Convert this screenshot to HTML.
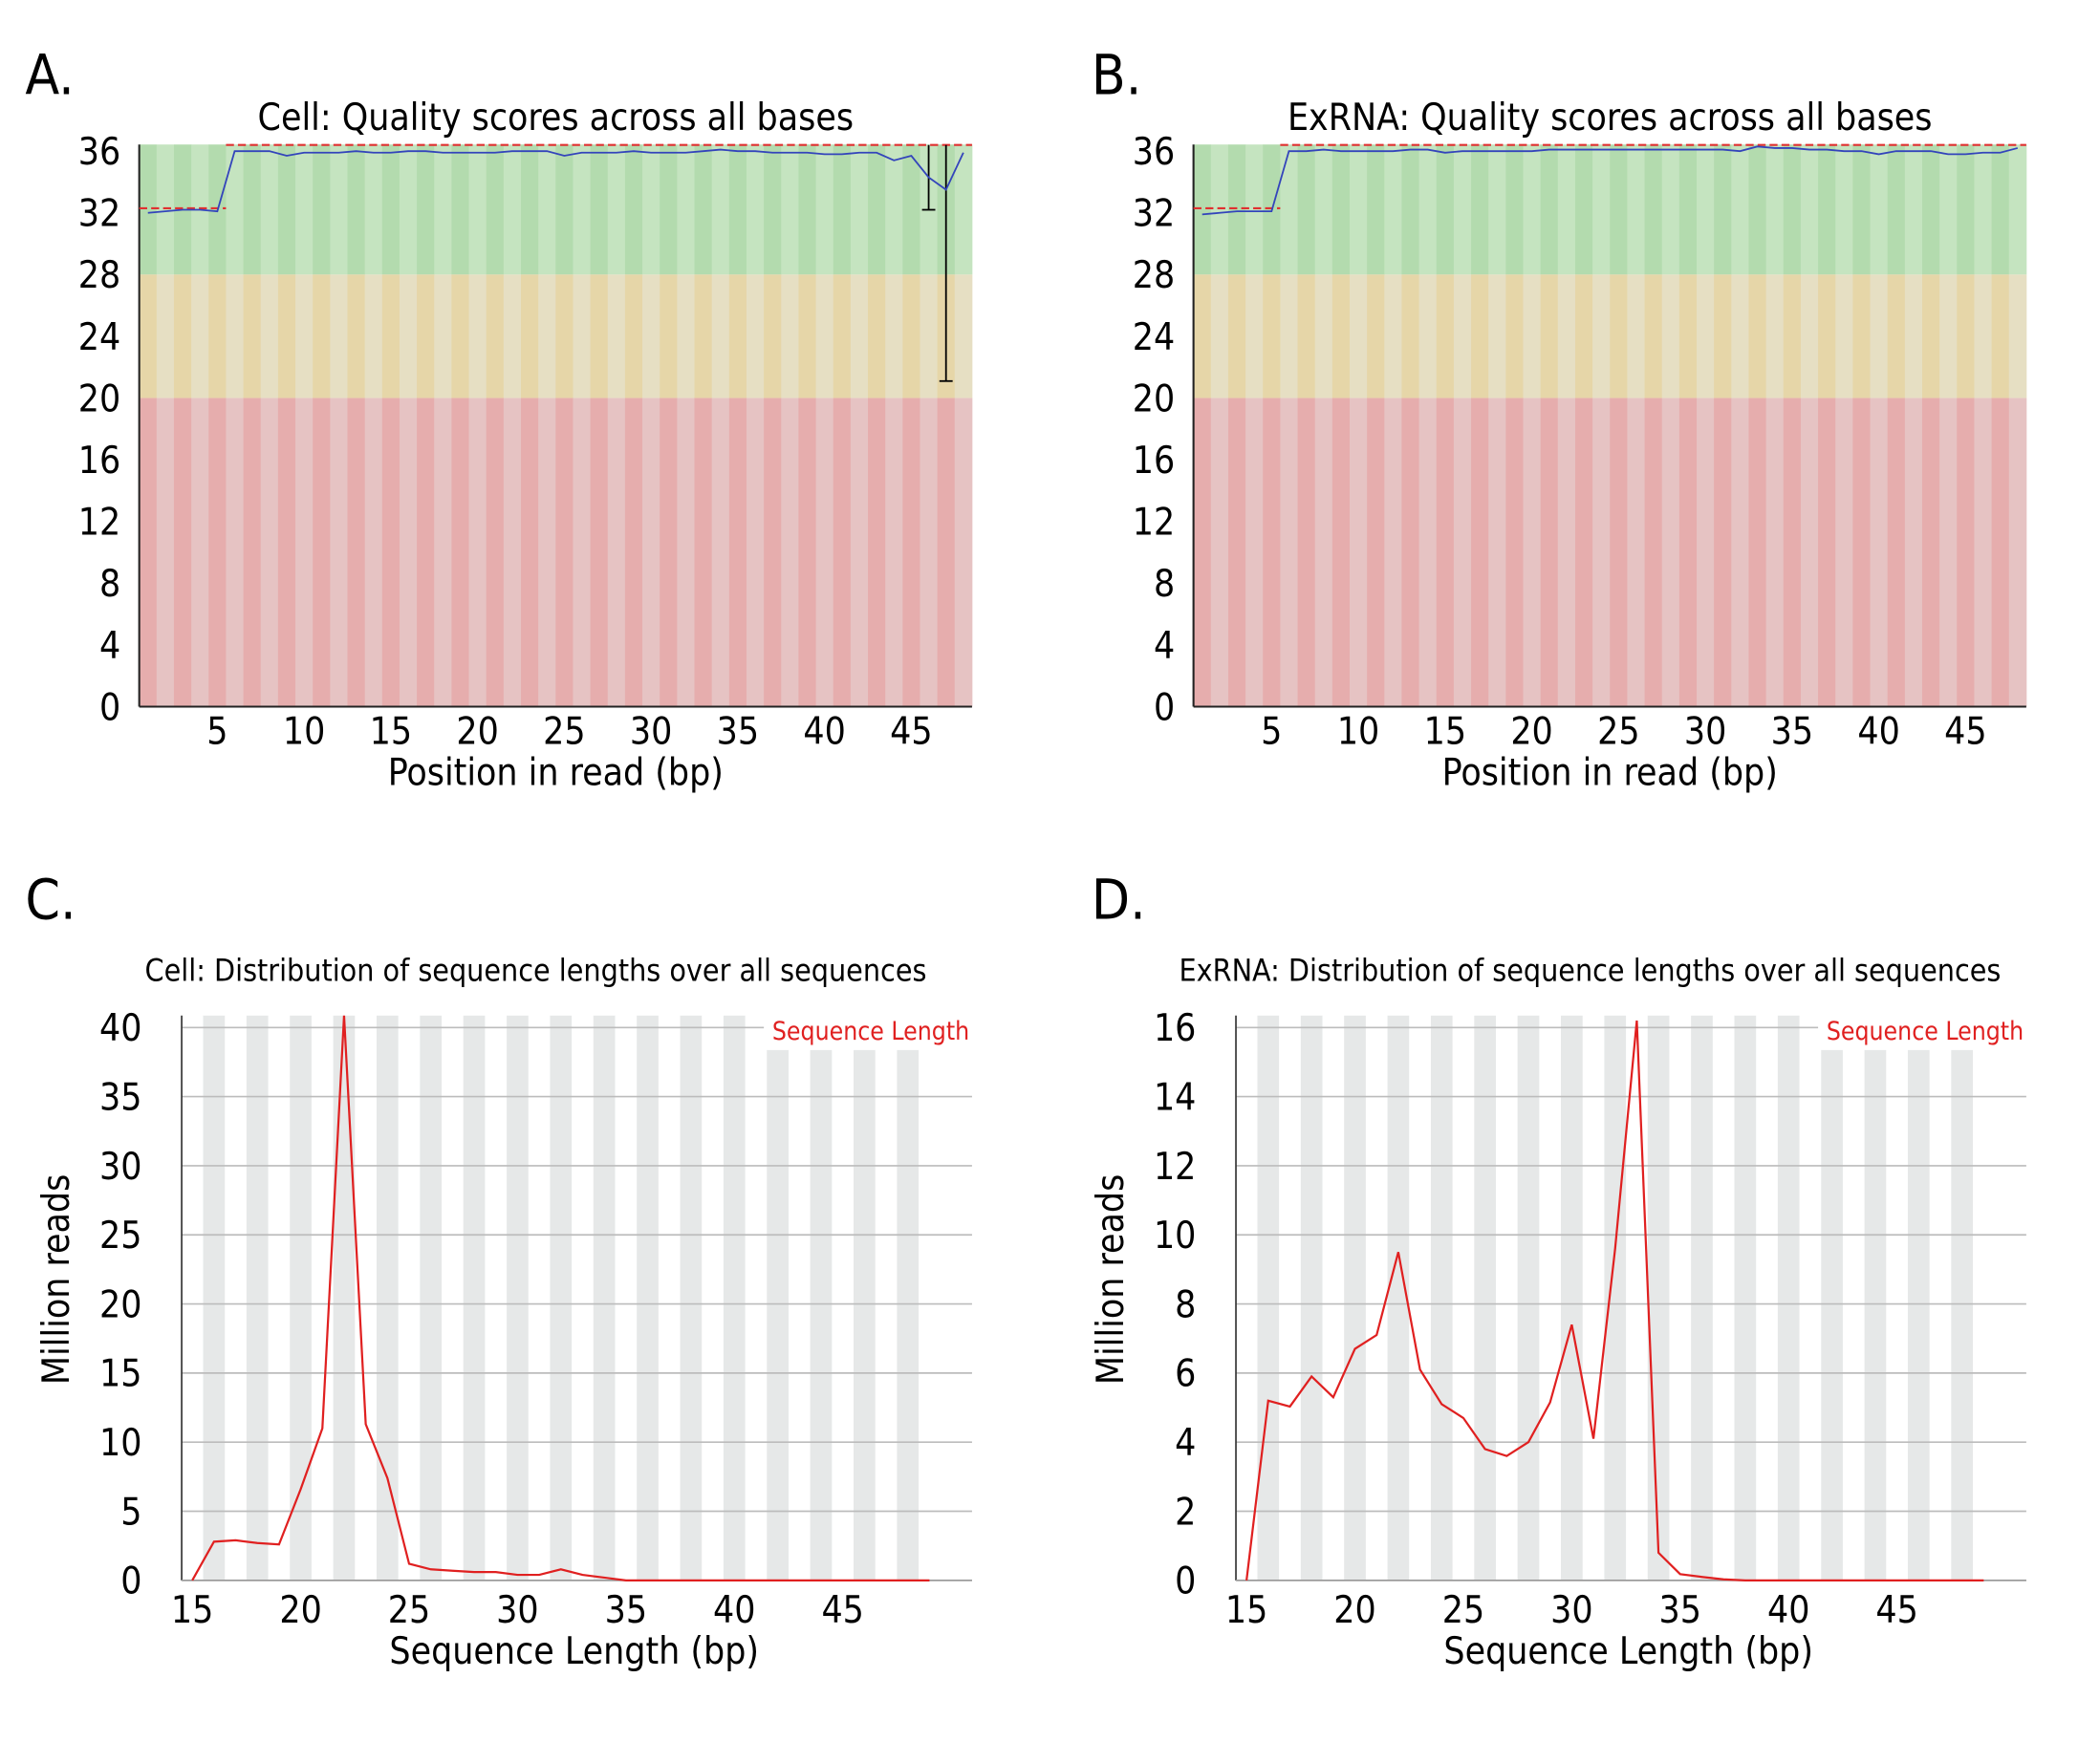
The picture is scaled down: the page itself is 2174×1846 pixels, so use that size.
<!DOCTYPE html>
<html><head><meta charset="utf-8">
<style>
html,body{margin:0;padding:0;background:#fff;}
svg{display:block;}
text{font-family:"DejaVu Sans Condensed","DejaVu Sans","Liberation Sans",sans-serif;fill:#000;}
</style></head>
<body>
<svg id="fig" width="2174" height="1846" viewBox="0 0 1567 1330.5" preserveAspectRatio="none" xmlns="http://www.w3.org/2000/svg">
<g id="root"></g>
</svg>
<script>
// ---- Quality data (A: Cell, B: ExRNA), positions 1..48 ----
const qualPositions = [1,2,3,4,5,6,7,8,9,10,11,12,13,14,15,16,17,18,19,20,21,22,23,24,25,26,27,28,29,30,31,32,33,34,35,36,37,38,39,40,41,42,43,44,45,46,47,48];
const qualMeanA = [32.0,32.1,32.2,32.2,32.1,36.0,36.0,36.0,35.7,35.9,35.9,35.9,36.0,35.9,35.9,36.0,36.0,35.9,35.9,35.9,35.9,36.0,36.0,36.0,35.7,35.9,35.9,35.9,36.0,35.9,35.9,35.9,36.0,36.1,36.0,36.0,35.9,35.9,35.9,35.8,35.8,35.9,35.9,35.4,35.7,34.3,33.5,35.9];
const qualMeanB = [31.9,32.0,32.1,32.1,32.1,36.0,36.0,36.1,36.0,36.0,36.0,36.0,36.1,36.1,35.9,36.0,36.0,36.0,36.0,36.0,36.1,36.1,36.1,36.1,36.1,36.1,36.1,36.1,36.1,36.1,36.1,36.0,36.3,36.2,36.2,36.1,36.1,36.0,36.0,35.8,36.0,36.0,36.0,35.8,35.8,35.9,35.9,36.2];
const qualMedianA = [32.3,32.3,32.3,32.3,32.3,36.4,36.4,36.4,36.4,36.4,36.4,36.4,36.4,36.4,36.4,36.4,36.4,36.4,36.4,36.4,36.4,36.4,36.4,36.4,36.4,36.4,36.4,36.4,36.4,36.4,36.4,36.4,36.4,36.4,36.4,36.4,36.4,36.4,36.4,36.4,36.4,36.4,36.4,36.4,36.4,36.4,36.4,36.4];
const qualMedianB = qualMedianA;
const errPosA = [46,47];
const errLowA = [32.2,21.1];
const errHighA = [36.4,36.4];
const qualTicks = [0,4,8,12,16,20,24,28,32,36];
const posTicks = [5,10,15,20,25,30,35,40,45];

// ---- Length distribution (C: Cell, D: ExRNA), lengths 15..49 ----
const lengths = [15,16,17,18,19,20,21,22,23,24,25,26,27,28,29,30,31,32,33,34,35,36,37,38,39,40,41,42,43,44,45,46,47,48,49];
const readsC = [0,2.8,2.9,2.7,2.6,6.6,11.0,41,11.3,7.4,1.2,0.8,0.7,0.6,0.6,0.4,0.4,0.8,0.4,0.2,0,0,0,0,0,0,0,0,0,0,0,0,0,0,0];
const readsD = [0,5.2,5.03,5.9,5.3,6.7,7.1,9.5,6.1,5.1,4.7,3.8,3.6,4.0,5.15,7.4,4.1,9.6,16.2,0.8,0.18,0.1,0.03,0,0,0,0,0,0,0,0,0,0,0,0];
const ticksC = [0,5,10,15,20,25,30,35,40];
const ticksD = [0,2,4,6,8,10,12,14,16];
const lenTicks = [15,20,25,30,35,40,45];

const NS="http://www.w3.org/2000/svg";
const root=document.getElementById('root');
function mk(tag,attrs,parent,txt){const e=document.createElementNS(NS,tag);for(const k in attrs)e.setAttribute(k,attrs[k]);if(txt!==undefined)e.textContent=txt;(parent||root).appendChild(e);return e;}

function qualPanel(ox,labX,label,title,mean,median,errP,errL,errH,nm){
  const g=mk('g',{});
  
  
  const L=ox+105,R=ox+733,B=533,T=109;
  const n=48,w=(R-L)/n;
  const x=p=>L+(p-0.5)*w;
  const y=v=>B-v*(B-114)/36;
  const bands=[[T,y(28),'#c5e4c0','#b3dbae'],[y(28),y(20),'#e6dfc3','#e6d6a8'],[y(20),B,'#e6c3c3','#e6adad']];
  for(const b of bands){
    for(let i=0;i<n;i++){
      const r=mk('rect',{x:L+i*w,y:b[0],width:w+0.3,height:b[1]-b[0],fill:i%2==0?b[3]:b[2]},g);
      
      
    }
  }
  mk('line',{x1:L,y1:T,x2:L,y2:B,stroke:'#222','stroke-width':1.5},g);
  mk('line',{x1:L,y1:B,x2:R,y2:B,stroke:'#222','stroke-width':1.5},g);
  let runs=[];let cur=null;
  median.forEach((v,i)=>{if(cur&&cur.v===v){cur.e=i}else{cur={v,s:i,e:i};runs.push(cur)}});
  for(const r of runs){
    const l=mk('line',{x1:x(r.s+1)-w/2,y1:y(r.v),x2:x(r.e+1)+w/2,y2:y(r.v),stroke:'#e03030','stroke-width':1.5,'stroke-dasharray':'6 3'},g);
    
    
  }
  errP.forEach((p,i)=>{
    const e=mk('g',{},g);
    
    
    mk('line',{x1:x(p),y1:Math.max(T,y(errH[i])),x2:x(p),y2:y(errL[i]),stroke:'#000','stroke-width':1.3},e);
    mk('line',{x1:x(p)-5,y1:y(errL[i]),x2:x(p)+5,y2:y(errL[i]),stroke:'#000','stroke-width':1.3},e);
  });
  const pts=mean.map((v,i)=>x(qualPositions[i])+','+y(v)).join(' ');
  const pl=mk('polyline',{points:pts,fill:'none',stroke:'#3344bb','stroke-width':1.3},g);
  
  
  qualTicks.forEach(t=>{const tx=mk('text',{x:L-14,y:y(t)+10,'font-size':28,'text-anchor':'end'},g,String(t));});
  posTicks.forEach(t=>{const tx=mk('text',{x:x(t),y:B+28,'font-size':28,'text-anchor':'middle'},g,String(t));});
  const at=mk('text',{x:(L+R)/2,y:B+59,'font-size':28,'text-anchor':'middle'},g,'Position in read (bp)');
  
  const tt=mk('text',{x:(L+R)/2,y:98,'font-size':28,'text-anchor':'middle'},g,title);
  
  const pl2=mk('text',{x:labX,y:71,'font-size':42},g,label);
  
}

function lenPanel(ox,labX,label,title,vals,ticks,maxV,nm){
  const g=mk('g',{});
  
  
  const L=ox+137,R=ox+733,B=1192,T=766,topTickY=775;
  const unit=16.35,x0=ox+145;
  const x=l=>x0+(l-15)*unit;
  const y=v=>B-v*(B-topTickY)/maxV;
  const legL=ox+576;
  for(let l=16;l<=48;l+=2){
    const sx=x(l-0.5);
    const st=(sx>=legL-2)?792:T;
    const r=mk('rect',{x:sx,y:st,width:unit,height:B-st,fill:'#e6e8e8'},g);
    
  }
  ticks.forEach(t=>{
    const gl=mk('line',{x1:L,y1:y(t),x2:(t===ticks[ticks.length-1])?legL:R,y2:y(t),stroke:'#bcbcbc','stroke-width':1.2},g);
    
    const tx=mk('text',{x:L-30,y:y(t)+10,'font-size':28,'text-anchor':'end'},g,String(t));
    
  });
  mk('line',{x1:L,y1:T,x2:L,y2:B,stroke:'#333','stroke-width':1.2},g);
  mk('line',{x1:L,y1:B,x2:R,y2:B,stroke:'#999','stroke-width':1.2},g);
  const pts=vals.map((v,i)=>x(lengths[i])+','+Math.max(T,y(v))).join(' ');
  const pl=mk('polyline',{points:pts,fill:'none',stroke:'#e02020','stroke-width':1.6},g);
  
  lenTicks.forEach(t=>{const tx=mk('text',{x:x(t),y:B+32,'font-size':28,'text-anchor':'middle'},g,String(t));});
  const at=mk('text',{x:ox+433,y:B+63,'font-size':28,'text-anchor':'middle'},g,'Sequence Length (bp)');
  
  const yt=mk('text',{x:0,y:0,'font-size':28,'text-anchor':'middle',transform:`translate(${ox+52},965) rotate(-90)`},g,'Million reads');
  
  const tt=mk('text',{x:ox+404,y:740,'font-size':23,'text-anchor':'middle'},g,title);
  
  const lg=mk('text',{x:ox+731,y:784,'font-size':19,'text-anchor':'end',style:'fill:#e02020'},g,'Sequence Length');
  
  const pl2=mk('text',{x:labX,y:693,'font-size':42},g,label);
  
}

qualPanel(0,19,'A.','Cell: Quality scores across all bases',qualMeanA,qualMedianA,errPosA,errLowA,errHighA,'cell-quality');
qualPanel(795,823,'B.','ExRNA: Quality scores across all bases',qualMeanB,qualMedianB,[],[],[],'exrna-quality');
lenPanel(0,19,'C.','Cell: Distribution of sequence lengths over all sequences',readsC,ticksC,40,'cell-length');
lenPanel(795,823,'D.','ExRNA: Distribution of sequence lengths over all sequences',readsD,ticksD,16,'exrna-length');
</script>
</body></html>
